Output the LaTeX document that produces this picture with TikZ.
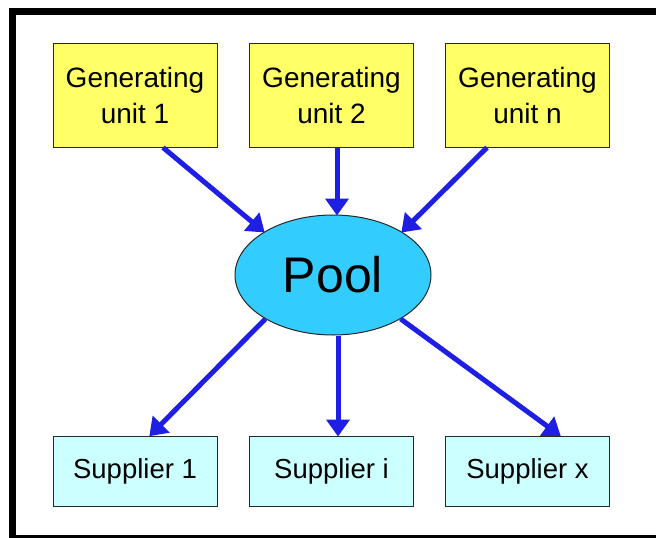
\documentclass[tikz,border=0pt]{standalone}
\usepackage{fontspec}
\setmainfont{Liberation Sans}
\usetikzlibrary{shapes.geometric,arrows.meta}
\definecolor{genfill}{RGB}{255,255,102}
\definecolor{supfill}{RGB}{204,255,255}
\definecolor{poolfill}{RGB}{51,204,255}
\definecolor{flow}{RGB}{30,30,228}
\definecolor{edge}{RGB}{40,40,40}
\tikzset{
  genbox/.style={draw=edge, line width=1pt, fill=genfill, minimum width=164pt, minimum height=104pt,
    inner sep=0pt, align=center, font=\fontsize{28}{36}\selectfont},
  supbox/.style={draw=edge, line width=1pt, fill=supfill, minimum width=164pt, minimum height=70pt,
    inner sep=0pt, font=\fontsize{27.5}{32}\selectfont},
  poolnode/.style={ellipse, draw=edge, line width=1pt, fill=poolfill, minimum width=196pt, minimum height=120pt,
    inner sep=0pt, font=\fontsize{50}{60}\selectfont},
  flowarrow/.style={draw=flow, line width=5pt, -{Triangle[length=17pt,width=23pt]}, shorten >=-1pt}
}
\begin{document}
\begin{tikzpicture}[x=1pt,y=-1pt]
\useasboundingbox (0,0) rectangle (656,538);
\begin{scope}
\clip (0,0) rectangle (656,538);
\draw[line width=7pt] (12.5,11) rectangle (665,538.5);
\end{scope}
% generating units
\node[genbox] (g1) at (135,95) {Generating\\unit 1};
\node[genbox] (g2) at (331.5,95) {Generating\\unit 2};
\node[genbox] (gn) at (527.5,95) {Generating\\unit n};
% pool
\node[poolnode] (pool) at (333,275) {Pool};
% suppliers
\node[supbox] (s1) at (135,471) {Supplier 1};
\node[supbox] (si) at (331.5,471) {Supplier i};
\node[supbox] (sx) at (527.5,471) {Supplier x};
% flows into the pool
\draw[flowarrow] ([xshift=28pt]g1.south) -- (pool.148.8);
\draw[flowarrow] ([xshift=5.5pt]g2.south) -- ([xshift=5.5pt]g2.south |- pool.north);
\draw[flowarrow] ([xshift=-40.5pt]gn.south) -- (pool.32.7);
% flows out of the pool
\draw[flowarrow] (pool.213.5) -- ([xshift=15pt]s1.north);
\draw[flowarrow] ([xshift=6.5pt]si.north |- pool.south) -- ([xshift=6.5pt]si.north);
\draw[flowarrow] (pool.-33.9) -- ([xshift=32.5pt]sx.north);
\end{tikzpicture}
\end{document}
